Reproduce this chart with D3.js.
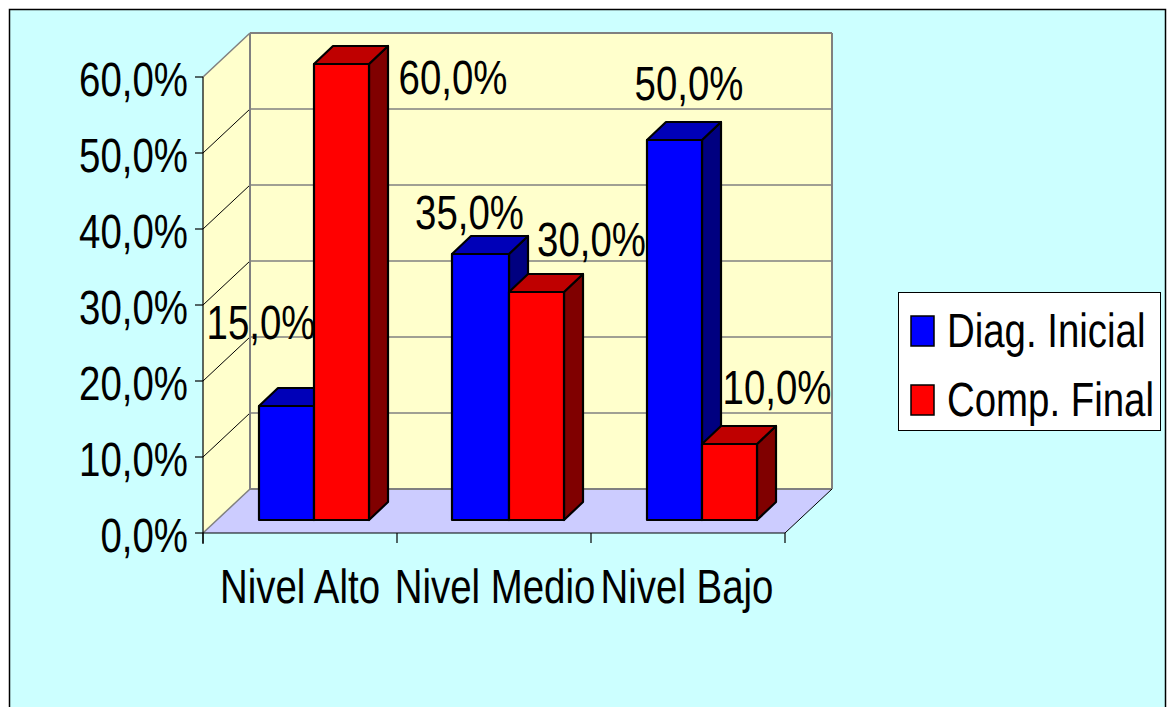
<!DOCTYPE html>
<html><head><meta charset="utf-8">
<script src="https://cdnjs.cloudflare.com/ajax/libs/d3/7.8.5/d3.min.js"></script>
<style>html,body{margin:0;padding:0;background:#fff;overflow:hidden}svg{display:block}
text{font-family:"Liberation Sans",Arial,sans-serif;fill:#000;text-rendering:geometricPrecision}</style></head><body>
<script>
const categories=["Nivel Alto","Nivel Medio","Nivel Bajo"];
const seriesNames=["Diag. Inicial","Comp. Final"];
const diagInicial=[15,35,50];
const compFinal=[60,30,10];
const yTicks=[0,10,20,30,40,50,60];
const fillColors=["#0000ff","#ff0000"];
const topColors=["#0000b8","#bf0000"];
const sideColors=["#000080","#800000"];
const values=[diagInicial,compFinal];
const fmt=v=>v.toFixed(1).replace(".",",")+"%";

const W=1174,H=707;
const svg=d3.select("body").append("svg").attr("width",W).attr("height",H);
const FS=48,SX=0.8;
function label(x,y,t,anchor="start",fs=FS,sx=SX){
  return svg.append("text").attr("transform",`translate(${x},${y}) scale(${sx},1)`)
    .attr("text-anchor",anchor).attr("font-size",fs).text(t);
}
svg.append("rect").attr("x",9.5).attr("y",9.5).attr("width",1156).attr("height",710)
  .attr("fill","#ccffff").attr("stroke","#000").attr("stroke-width",1.5);

const x=d3.scaleBand().domain(categories).range([203,785]);
const y=d3.scaleLinear().domain([0,60]).range([533,77]);
const dx=47,dy=-44;
const poly=(pts,fill,stroke,sw)=>svg.append("polygon").attr("points",pts.map(p=>p.join(",")).join(" "))
  .attr("fill",fill).attr("stroke",stroke||"none").attr("stroke-width",sw||0).attr("stroke-linejoin","round");
const line=(a,b,c,w)=>svg.append("line").attr("x1",a[0]).attr("y1",a[1]).attr("x2",b[0]).attr("y2",b[1]).attr("stroke",c).attr("stroke-width",w);

const [x0,x1]=x.range();
// walls and floor
poly([[x0+dx,y(0)+dy],[x1+dx,y(0)+dy],[x1+dx,y(60)+dy],[x0+dx,y(60)+dy]],"#ffffcc");
poly([[x0,y(0)],[x0+dx,y(0)+dy],[x0+dx,y(60)+dy],[x0,y(60)]],"#ffffcc");
poly([[x0,y(0)],[x1,y(0)],[x1+dx,y(0)+dy],[x0+dx,y(0)+dy]],"#ccccff");
// gridlines
yTicks.slice(1,-1).forEach(t=>{
  line([x0,y(t)],[x0+dx,y(t)+dy],"#000",1);
  line([x0+dx,y(t)+dy],[x1+dx,y(t)+dy],"#808080",1.5);
});
line([x0,y(60)],[x0+dx,y(60)+dy],"#808080",1.5);
line([x0+dx,y(60)+dy],[x1+dx,y(60)+dy],"#808080",2);
line([x0+dx,y(60)+dy],[x0+dx,y(0)+dy],"#808080",2);
line([x1+dx,y(60)+dy],[x1+dx,y(0)+dy],"#808080",2);
line([x0,y(0)],[x0+dx,y(0)+dy],"#808080",1.5);
line([x0+dx,y(0)+dy],[x1+dx,y(0)+dy],"#808080",2);
line([x1,y(0)],[x1+dx,y(0)+dy],"#000",1);
// axes
line([x0,y(60)],[x0,y(0)+11],"#000",1.2);
line([x0,y(0)],[x1,y(0)],"#000",1.2);
yTicks.forEach(t=>line([x0-8,y(t)],[x0,y(t)],"#000",1.2));
categories.forEach(c=>line([x(c),y(0)],[x(c),y(0)+10],"#000",1.2));
line([x1,y(0)],[x1,y(0)+10],"#000",1.2);

// bars
const barW=55,barOff=56,bx=19,by=-18,baseShift=-13;
const yb=v=>y(v)+baseShift;
const nudge=[0,-1,0];
const redNudge=[0,2,0];
categories.forEach((c,i)=>{
  const left=x(c)+barOff+nudge[i];
  values.forEach((vals,s)=>{
    const v=vals[i],a=left+s*(barW+redNudge[i]),b=left+barW+redNudge[i]+s*barW,t=yb(v),g=yb(0);
    poly([[b,t],[b+bx,t+by],[b+bx,g+by],[b,g]],sideColors[s],"#000",2.2);
    poly([[a,t],[a+bx,t+by],[b+bx,t+by],[b,t]],topColors[s],"#000",2.2);
    poly([[a,t],[b,t],[b,g],[a,g]],fillColors[s],"#000",2.2);
  });
});

// y tick labels
yTicks.forEach(t=>label(188,y(t)+18.5,fmt(t),"end"));
// category labels
const catX=[300,495,687];
categories.forEach((c,i)=>label(catX[i],603,c,"middle"));
// data labels
const dataLabelPos=[[[261,339],[453,94]],[[469.5,229],[591.5,256]],[[689,100],[777,404]]];
categories.forEach((c,i)=>values.forEach((vals,s)=>{
  const p=dataLabelPos[i][s];
  label(p[0],p[1],fmt(vals[i]),"middle");
}));

// legend
svg.append("rect").attr("x",898.5).attr("y",292.5).attr("width",262).attr("height",138).attr("fill","#fff").attr("stroke","#000").attr("stroke-width",1);
seriesNames.forEach((n,i)=>{
  const cy=331+i*69;
  svg.append("rect").attr("x",911).attr("y",cy-15).attr("width",23).attr("height",30).attr("fill",fillColors[i]).attr("stroke","#000").attr("stroke-width",1.5);
  label(947,cy+16,n,"start");
});
</script></body></html>
